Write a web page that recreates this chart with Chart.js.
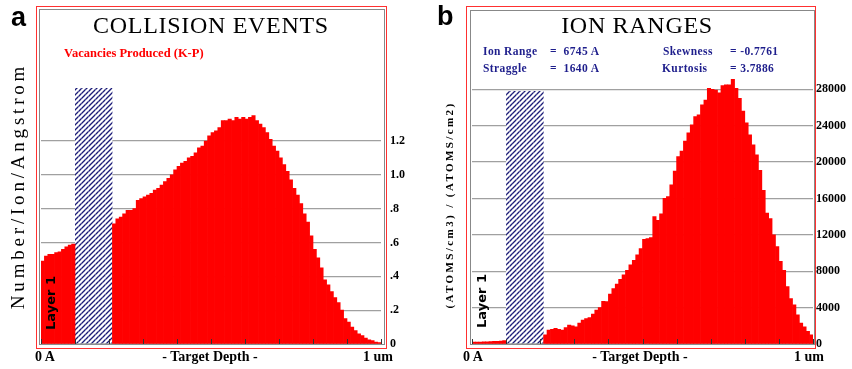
<!DOCTYPE html>
<html>
<head>
<meta charset="utf-8">
<script src="https://cdn.jsdelivr.net/npm/chart.js@4.4.0/dist/chart.umd.min.js"></script>
<style>
  body { margin: 0; background: #fff; width: 852px; height: 369px; overflow: hidden; position: relative; font-family: "Liberation Serif", serif; }
  canvas { position: absolute; top: 0; }
  .frame { position: absolute; box-sizing: border-box; }
  .t { position: absolute; white-space: nowrap; height: 20px; line-height: 20px; }
  .rot { position: absolute; white-space: nowrap; transform: translate(-50%, -50%) rotate(-90deg); }
  .xl { font-weight: bold; font-size: 14px; color: #000; }
  .st { font-weight: bold; font-size: 11.5px; color: #1e1e8c; letter-spacing: 0.4px; }
  .lay { font-family: "DejaVu Sans", sans-serif; font-weight: bold; font-size: 13px; color: #000; }
  .pl { font-family: "Liberation Sans", sans-serif; font-weight: bold; font-size: 27px; line-height: 27px; height: 27px; }
</style>
</head>
<body>
<div class="frame" style="left:36px;top:6px;width:351px;height:343px;border:1px solid #ff3030"></div>
<div class="frame" style="left:39px;top:9px;width:346px;height:336px;border:1.5px solid #888"></div>
<div class="frame" style="left:466px;top:6px;width:350px;height:343px;border:1px solid #ff3030"></div>
<div class="frame" style="left:469.5px;top:9.5px;width:345px;height:335px;border:1.5px solid #888"></div>

<canvas id="chartA" width="426" height="369" style="left:0"></canvas>
<canvas id="chartB" width="426" height="369" style="left:426px"></canvas>

<div class="t pl" style="left:11px;top:4px">a</div>
<div class="t pl" style="left:437px;top:3px">b</div>

<div class="t" style="left:0;width:422px;text-align:center;top:15px;font-size:24px;letter-spacing:0.7px">COLLISION EVENTS</div>
<div class="t" style="left:426px;width:422px;text-align:center;top:15px;font-size:24px;letter-spacing:0.7px">ION RANGES</div>

<div class="t" style="left:64px;top:43px;font-weight:bold;font-size:12.5px;color:#ff0000">Vacancies Produced (K-P)</div>

<div class="t st" style="left:483px;top:41px">Ion Range</div>
<div class="t st" style="left:550px;top:41px">= &nbsp;6745 A</div>
<div class="t st" style="left:663px;top:41px">Skewness</div>
<div class="t st" style="left:730px;top:41px">= -0.7761</div>
<div class="t st" style="left:483px;top:58px">Straggle</div>
<div class="t st" style="left:550px;top:58px">= &nbsp;1640 A</div>
<div class="t st" style="left:662px;top:58px">Kurtosis</div>
<div class="t st" style="left:730px;top:58px">= 3.7886</div>

<div class="rot" style="left:18px;top:186px;font-size:19px;letter-spacing:3.8px">Number/Ion/Angstrom</div>
<div class="rot" style="left:449px;top:205px;font-size:11px;font-weight:bold;letter-spacing:2.4px">(ATOMS/cm3) / (ATOMS/cm2)</div>

<div class="rot lay" style="left:49.5px;top:303px">Layer 1</div>
<div class="rot lay" style="left:481px;top:301px">Layer 1</div>

<div class="t xl" style="left:35px;top:347px">0 A</div>
<div class="t xl" style="left:110px;width:200px;text-align:center;top:347px">- Target Depth -</div>
<div class="t xl" style="left:363px;top:347px">1 um</div>
<div class="t xl" style="left:463px;top:347px">0 A</div>
<div class="t xl" style="left:540px;width:200px;text-align:center;top:347px">- Target Depth -</div>
<div class="t xl" style="left:794px;top:347px">1 um</div>

<script>
// 100 depth bins of 100 A each, 0 .. 1 um
const binCount = 100;
const depthBins = Array.from({ length: binCount }, (_, i) => i * 100);

// panel a: vacancies / ion / angstrom (bins 10-20 sit under the layer hatch)
const vacancies = [
  0.49, 0.52, 0.53, 0.53, 0.54, 0.545, 0.56, 0.575, 0.585, 0.59,
  null, null, null, null, null, null, null, null, null, null,
  null, 0.71, 0.74, 0.75, 0.77, 0.79, 0.79, 0.80, 0.85, 0.86,
  0.87, 0.88, 0.89, 0.91, 0.92, 0.94, 0.96, 0.98, 1.00, 1.03,
  1.05, 1.07, 1.08, 1.10, 1.11, 1.13, 1.16, 1.17, 1.20, 1.23,
  1.25, 1.26, 1.28, 1.32, 1.32, 1.33, 1.32, 1.34, 1.33, 1.34,
  1.33, 1.34, 1.35, 1.32, 1.30, 1.28, 1.25, 1.21, 1.17, 1.14,
  1.10, 1.06, 1.02, 0.97, 0.92, 0.88, 0.83, 0.77, 0.72, 0.64,
  0.56, 0.51, 0.45, 0.38, 0.35, 0.31, 0.275, 0.245, 0.20, 0.15,
  0.13, 0.10, 0.08, 0.06, 0.05, 0.035, 0.025, 0.02, 0.012, 0.008
];

// panel b: ion ranges (atoms/cm3)/(atoms/cm2)
const ionRanges = [
  200, 220, 220, 240, 250, 260, 280, 300, 330, 380,
  null, null, null, null, null, null, null, null, null, null,
  null, 1000, 1540, 1600, 1720, 1600, 1540, 1800, 2090, 2000,
  1900, 2300, 2640, 2800, 2900, 3300, 3740, 4000, 4700, 4650,
  5500, 6100, 6600, 7100, 7600, 8100, 8700, 9200, 9800, 10500,
  11500, 11600, 11700, 14000, 13600, 14300, 16000, 16200, 17500, 19000,
  20600, 21200, 22300, 23200, 24100, 25000, 25200, 26300, 26800, 28100,
  28000, 27900, 27600, 28400, 28500, 28500, 29100, 28100, 27000, 25600,
  24300, 23000, 21900, 20800, 19100, 16900, 14400, 13800, 12000, 10700,
  9100, 8100, 6300, 5000, 4300, 3200, 2300, 1900, 1400, 1000
];

// hatched "layer" band
const layerBins = [10, 20];
const layerTopA = 1.513;
const layerTopB = 27800;

const tickValuesA = [0, 0.2, 0.4, 0.6, 0.8, 1.0, 1.2];
const tickLabelsA = ['0', '.2', '.4', '.6', '.8', '1.0', '1.2'];
const tickValuesB = [0, 4000, 8000, 12000, 16000, 20000, 24000, 28000];
const tickLabelsB = ['0', '4000', '8000', '12000', '16000', '20000', '24000', '28000'];

function hatch() {
  const c = document.createElement('canvas');
  c.width = 5; c.height = 5;
  const g = c.getContext('2d');
  g.fillStyle = '#fff';
  g.fillRect(0, 0, 5, 5);
  g.strokeStyle = '#1c1c78';
  g.lineWidth = 1.35;
  g.beginPath();
  g.moveTo(-1, 6); g.lineTo(6, -1);
  g.moveTo(-1, 1); g.lineTo(1, -1);
  g.moveTo(4, 6); g.lineTo(6, 4);
  g.stroke();
  return g.createPattern(c, 'repeat');
}

function layerData(top) {
  return depthBins.map((d, i) => (i >= layerBins[0] && i <= layerBins[1]) ? top : null);
}

// small tick marks every 10 bins along the bottom
const depthTicks = {
  id: 'depthTicks',
  afterDatasetsDraw(chart) {
    const xs = chart.scales.x, area = chart.chartArea, ctx = chart.ctx;
    const half = (xs.getPixelForValue(1) - xs.getPixelForValue(0)) / 2;
    ctx.save();
    ctx.strokeStyle = '#333';
    ctx.lineWidth = 1;
    for (let k = 0; k <= binCount; k += 10) {
      const x = Math.round(xs.getPixelForValue(k) - half) + 0.5;
      ctx.beginPath();
      ctx.moveTo(x, area.bottom);
      ctx.lineTo(x, area.bottom - 5);
      ctx.stroke();
    }
    ctx.restore();
  }
};

function makeChart(id, values, layerTop, yMax, tickValues, tickLabels, padding, axisWidth, tickPad) {
  return new Chart(document.getElementById(id), {
    type: 'bar',
    data: {
      labels: depthBins,
      datasets: [
        { data: values, backgroundColor: '#ff0000', borderWidth: 0,
          barPercentage: 1, categoryPercentage: 1, grouped: false },
        { data: layerData(layerTop), backgroundColor: hatch(), borderWidth: 0,
          barPercentage: 1, categoryPercentage: 1, grouped: false, inflateAmount: 0 }
      ]
    },
    options: {
      responsive: false,
      animation: false,
      devicePixelRatio: 1,
      layout: { padding: padding },
      plugins: { legend: { display: false }, tooltip: { enabled: false } },
      scales: {
        x: { display: false },
        y: {
          position: 'right',
          min: 0,
          max: yMax,
          afterBuildTicks: s => { s.ticks = tickValues.map(v => ({ value: v })); },
          afterFit: s => { s.width = axisWidth; },
          grid: { color: '#a0a0a0', lineWidth: 1.3, drawTicks: false },
          border: { display: false },
          ticks: {
            padding: tickPad,
            color: '#000',
            font: { family: 'Liberation Serif', size: 12, weight: 'bold' },
            callback: (v, i) => tickLabels[i]
          }
        }
      }
    },
    plugins: [depthTicks]
  });
}

makeChart('chartA', vacancies, layerTopA, 1.936, tickValuesA, tickLabelsA,
  { left: 41, top: 16.5, right: 0, bottom: 25 }, 45, 9);
makeChart('chartB', ionRanges, layerTopB, 36000, tickValuesB, tickLabelsB,
  { left: 46, top: 16.5, right: 0, bottom: 25 }, 39, 3);
</script>
</body>
</html>
